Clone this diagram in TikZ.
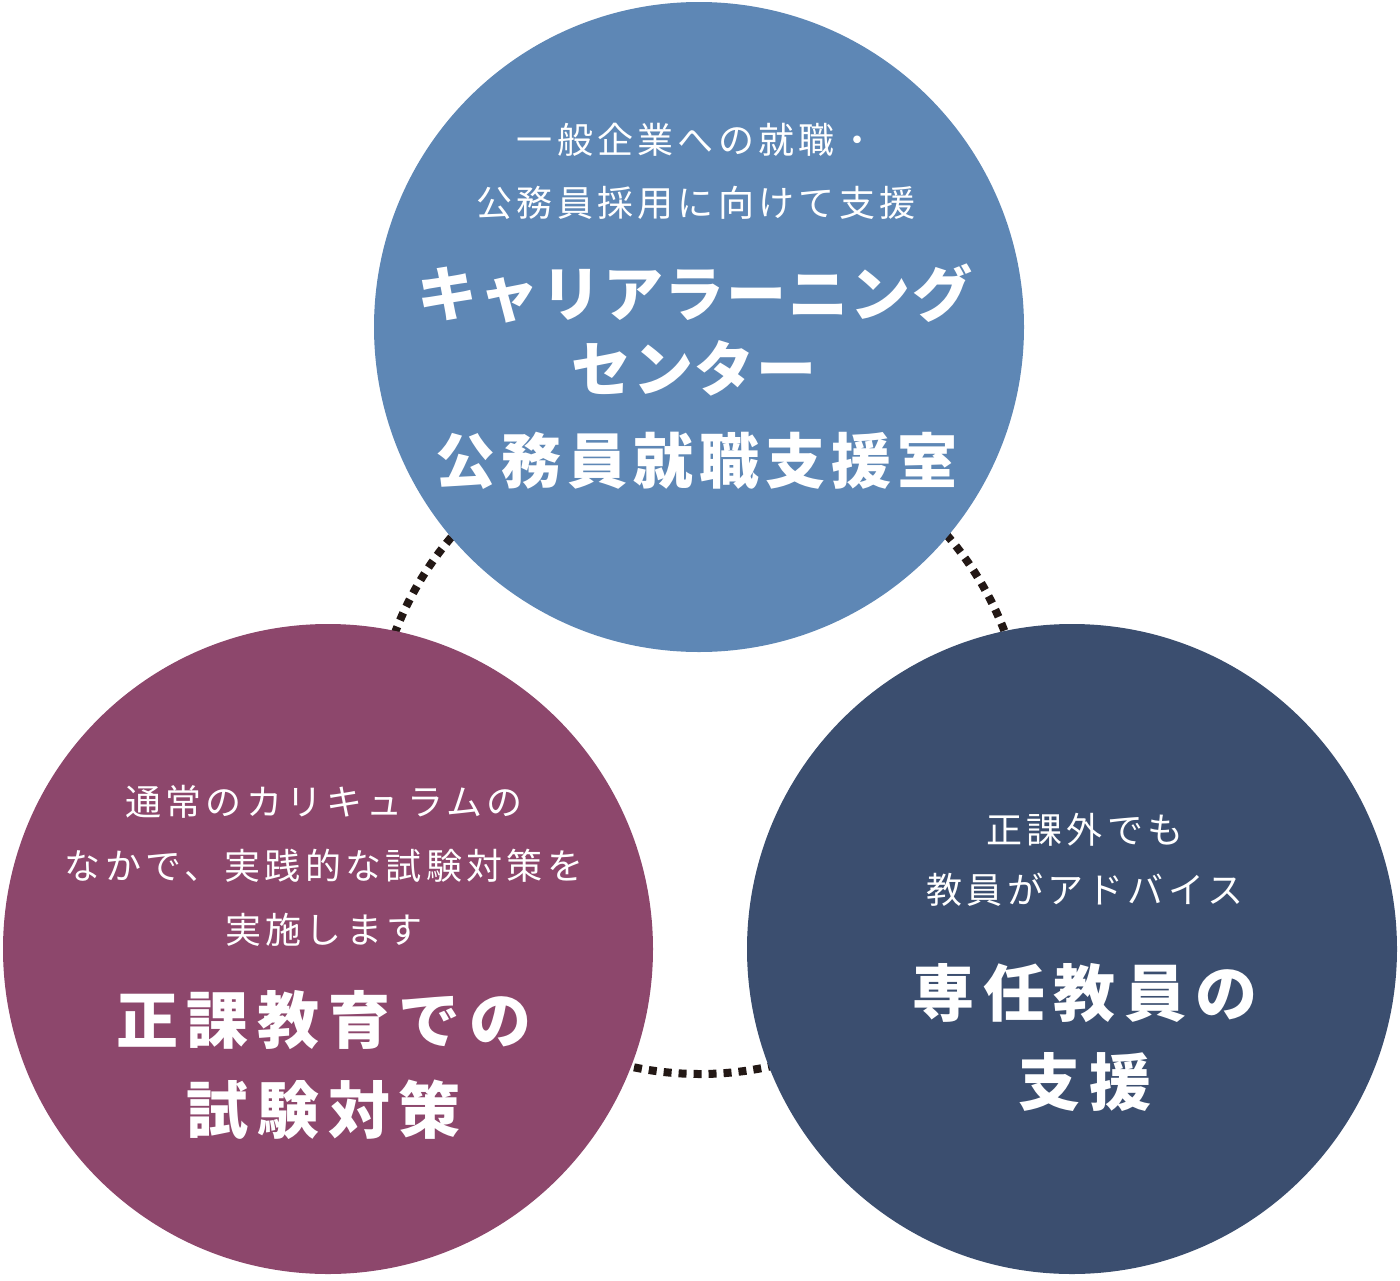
\documentclass[tikz,border=0pt]{standalone}
\usepackage{fontspec}
\newfontfamily\jp{Noto Sans CJK JP}
\definecolor{topblue}{HTML}{5E87B5}
\definecolor{leftmaroon}{HTML}{8D476C}
\definecolor{rightnavy}{HTML}{3B4E6F}
\definecolor{dotdark}{HTML}{231815}
\begin{document}
\begin{tikzpicture}[x=1pt,y=-1pt,
  circ/.style={circle, minimum size=650pt, inner sep=0pt, draw=none},
  dotring/.style={draw=dotdark, line width=8pt, dash pattern=on 8pt off 7pt},
  smalltxt/.style={text=white, anchor=base, inner sep=0pt,
    font=\jp\fontsize{36}{42}\selectfont\addfontfeature{LetterSpace=12}},
  bigtxt/.style={text=white, anchor=base, inner sep=0pt,
    font=\jp\bfseries\fontsize{62}{70}\selectfont\addfontfeature{LetterSpace=14}},
  toptxt/.style={text=white, anchor=base, inner sep=0pt,
    font=\jp\bfseries\fontsize{60}{70}\selectfont\addfontfeature{LetterSpace=10}},
  katatxt/.style={text=white, anchor=base, inner sep=0pt,
    font=\jp\bfseries\fontsize{60}{70}\selectfont\addfontfeature{LetterSpace=3}}
]
\useasboundingbox (0,0) rectangle (1400,1280);
\coordinate (ring) at (700,748);
\draw[dotring] (ring) circle[radius=326pt];

\node[circ, fill=topblue] (top) at (699,327) {};
\node[circ, fill=leftmaroon] (left) at (328,949) {};
\node[circ, fill=rightnavy] (right) at (1072,949) {};

% top circle texts
\node[smalltxt] (t1) at (696,153.7) {一般企業への就職・};
\node[smalltxt] (t2) at (696,216.7) {公務員採用に向けて支援};
\node[katatxt] (t3) at (695,316) {キャリアラーニング};
\node[katatxt] (t4) at (694,391) {センター};
\node[toptxt] (t5) at (696,483) {公務員就職支援室};

% left circle texts
\node[smalltxt] (l1) at (324,815.7) {通常のカリキュラムの};
\node[smalltxt] (l2) at (324,879.7) {なかで、実践的な試験対策を};
\node[smalltxt] (l3) at (324,943.7) {実施します};
\node[bigtxt] (l4) at (324,1043.5) {正課教育での};
\node[bigtxt] (l5) at (324,1133.5) {試験対策};

% right circle texts
\node[smalltxt] (r1) at (1085,843.7) {正課外でも};
\node[smalltxt] (r2) at (1085,903.7) {教員がアドバイス};
\node[bigtxt] (r3) at (1085,1016.5) {専任教員の};
\node[bigtxt] (r4) at (1085,1105.5) {支援};
\end{tikzpicture}
\end{document}
